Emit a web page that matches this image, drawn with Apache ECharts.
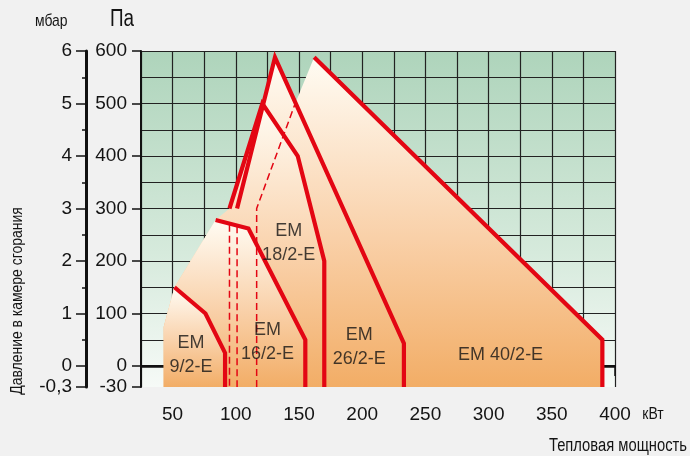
<!DOCTYPE html>
<html><head><meta charset="utf-8">
<script src="https://cdn.jsdelivr.net/npm/echarts@6/dist/echarts.min.js"></script>
<style>html,body{margin:0;padding:0;background:#f1f1f1}#c{width:690px;height:456px}</style>
</head><body><div id="c"></div>
<script>
// ---- axes (kW / Pa / mbar) ----
const xMin = 25, xMax = 400;
const paMin = -40, paMax = 600;          // bottom edge is labelled "-30" in the original
const mbarMin = -0.4, mbarMax = 6;
const xMajorTicks = [50,100,150,200,250,300,350,400];
const paTicks = [-40,0,100,200,300,400,500,600];
const paGrid = [0,50,100,150,200,250,300,350,400,450,500,550,600];
const mbarTicks = [-0.4,0,1,2,3,4,5,6];
const mbarMinorTicks = [0.5,1.5,2.5,3.5,4.5,5.5];
const paBottomLabel = '-30';
const mbarBottomLabel = '-0,3';

// ---- working fields, [kW, Pa] ----
const fieldLeftEdge = [[43,75],[51.5,150]];
const em9  = [[51.5,150],[76,100],[91.5,25],[91.5,-40]];
const em16 = [[84,278],[110,262],[155,50],[155,-40]];
const em18 = [[95,300],[121,500],[149,400],[170,200],[170,-40]];
const em26 = [[101,300],[131,588],[233,43],[233,-40]];
const em40 = [[162,588],[390,50],[390,-40]];
const em40Hidden = [[116.5,-40],[116.5,300],[147,500]];
const dash18 = [[95,269],[95,-40]];
const dash26 = [[101,266],[101,-40]];
const modelNames = ['EM\n9/2-E','EM\n16/2-E','EM\n18/2-E','EM\n26/2-E','EM 40/2-E'];
const modelLabelAt = [[64.6,20],[125,46],[141.8,235],[197.7,36],[309.5,21]];

const FONT = "'Liberation Sans',Arial,sans-serif";
const RED = '#e30613';
const INK = '#141414';
const NARROW = 0.82;
const fillGrad = {type:'linear',x:0,y:0,x2:0,y2:1,colorStops:[
  {offset:0,color:'#fffcf3'},{offset:0.2,color:'#fdecd9'},{offset:0.55,color:'#f9d0a8'},{offset:1,color:'#f2ad66'}]};

function fillSeries(data, z){
  return {type:'line', data, symbol:'none', silent:true, z,
    lineStyle:{width:0,opacity:0}, areaStyle:{origin:'start', color:fillGrad, opacity:1}};
}
function redSeries(data, z){
  return {type:'line', data, symbol:'none', silent:true, z,
    lineStyle:{color:RED, width:4.2, join:'miter', miterLimit:10}};
}
function dashSeries(data){
  return {type:'line', data, symbol:'none', silent:true, z:20,
    lineStyle:{color:RED, width:1.5, type:[7,4]}};
}

const chart = echarts.init(document.getElementById('c'), null, {renderer:'canvas'});
chart.setOption({
  backgroundColor:'#f1f1f1',
  animation:false,
  grid:{left:141, top:51, width:474, height:336, show:true, borderWidth:0,
    backgroundColor:{type:'linear',x:0,y:0,x2:0,y2:1,colorStops:[
      {offset:0,color:'#aed4bb'},{offset:0.6,color:'#d6eadc'},{offset:1,color:'#f6faf7'}]}},
  xAxis:[
    {type:'value', min:xMin, max:xMax, interval:25, position:'bottom',
      axisLine:{lineStyle:{color:'#111',width:2}},
      axisTick:{length:5, lineStyle:{color:'#111',width:1.5}},
      axisLabel:{formatter:v=> v%50===0 ? String(v) : '', margin:18, fontSize:19, color:INK, fontFamily:FONT},
      splitLine:{show:true, lineStyle:{color:'#222',width:1.2}}},
    {type:'value', min:xMin, max:xMax, position:'bottom',
      axisLine:{show:false}, axisLabel:{show:false}, splitLine:{show:false},
      axisTick:{show:true, customValues:xMajorTicks, length:10, lineStyle:{color:'#111',width:1.5}}}
  ],
  yAxis:[
    {type:'value', min:paMin, max:paMax, position:'left', offset:0,
      axisLine:{show:true, lineStyle:{color:'#111',width:2}},
      axisTick:{show:true, customValues:paTicks, length:9, lineStyle:{color:'#111',width:1.5}},
      axisLabel:{customValues:paTicks, formatter:v=> v===paMin ? paBottomLabel : String(v),
        margin:14, fontSize:19, color:INK, fontFamily:FONT},
      splitLine:{show:false}},
    {type:'value', min:paMin, max:paMax, position:'left', offset:0,
      axisLine:{show:false}, axisLabel:{show:false},
      axisTick:{show:false, customValues:paGrid},
      splitLine:{show:true, lineStyle:{color:'#222',width:1.2}}},
    {type:'value', min:paMin, max:paMax, position:'left', offset:0,
      axisLine:{show:false}, axisLabel:{show:false},
      axisTick:{show:false, customValues:[0]},
      splitLine:{show:true, lineStyle:{color:'#111',width:2.6}}},
    {type:'value', min:mbarMin, max:mbarMax, position:'left', offset:55,
      axisLine:{show:true, lineStyle:{color:'#111',width:3}},
      axisTick:{show:true, customValues:mbarTicks, length:10, lineStyle:{color:'#111',width:1.5}},
      axisLabel:{customValues:mbarTicks, formatter:v=> Math.abs(v-mbarMin)<1e-9 ? mbarBottomLabel : String(v),
        margin:14, fontSize:19, color:INK, fontFamily:FONT},
      splitLine:{show:false}},
    {type:'value', min:mbarMin, max:mbarMax, position:'left', offset:55,
      axisLine:{show:false}, axisLabel:{show:false}, splitLine:{show:false},
      axisTick:{show:true, customValues:mbarMinorTicks, length:4, lineStyle:{color:'#111',width:1.5}}}
  ],
  series:[
    fillSeries(em40Hidden.concat(em40), 2),
    fillSeries([[em26[0][0], paMin]].concat(em26), 3),
    fillSeries(fieldLeftEdge.concat(em16.slice(0,1), em18), 4),
    fillSeries(fieldLeftEdge.concat(em16), 5),
    fillSeries(fieldLeftEdge.slice(0,1).concat(em9), 6),
    dashSeries(em40Hidden), dashSeries(dash18), dashSeries(dash26),
    redSeries(em40, 21), redSeries(em26, 21), redSeries(em18, 21), redSeries(em16, 21), redSeries(em9, 21),
    {type:'scatter', z:30, silent:true, symbolSize:1, itemStyle:{color:'rgba(0,0,0,0)'},
      data: modelLabelAt.map((p,i)=>[p[0],p[1],modelNames[i]]),
      label:{show:true, position:'inside', formatter:p=>p.data[2], fontSize:18, lineHeight:24,
        color:INK, fontFamily:FONT}}
  ],
  graphic:[
    {type:'text', x:35, y:21, scaleX:NARROW, style:{text:'мбар', fontSize:17, fill:INK, fontFamily:FONT, verticalAlign:'middle'}},
    {type:'text', x:110, y:20, scaleX:NARROW, style:{text:'Па', fontSize:23, fill:INK, fontFamily:FONT, verticalAlign:'middle'}},
    {type:'text', x:17, y:301, rotation:Math.PI/2, scaleX:NARROW,
      style:{text:'Давление в камере сгорания', fontSize:17, fill:INK, fontFamily:FONT, align:'center', verticalAlign:'middle'}},
    {type:'text', x:653, y:414, scaleX:NARROW, style:{text:'кВт', fontSize:17, fill:INK, fontFamily:FONT, align:'center', verticalAlign:'middle'}},
    {type:'text', x:687, y:446, scaleX:NARROW, style:{text:'Тепловая мощность', fontSize:18, fill:INK, fontFamily:FONT, align:'right', verticalAlign:'middle'}}
  ]
});
</script></body></html>
